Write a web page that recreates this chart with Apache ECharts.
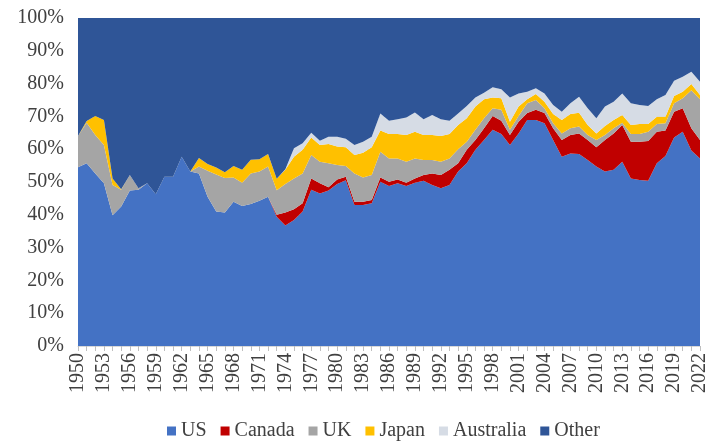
<!DOCTYPE html>
<html>
<head>
    <meta charset="utf-8">
    <title>ECharts</title>
    <script src="https://cdn.jsdelivr.net/npm/echarts@6.0.0/dist/echarts.min.js"></script>
    <style>
        html, body { margin: 0; padding: 0; background: #fff; }
    </style>
</head>
<body>
<div id="main" style="width: 710px;height:441px;"></div>
<script type="text/javascript">
    // share of total, %, per year 1950-2022
    var years = [];
    for (var y = 1950; y <= 2022; y++) years.push(String(y));

    var us = [54.5, 55.7, 52.6, 49.6, 39.9, 42.5, 47.4, 47.6, 49.6, 46.3,
        51.6, 51.6, 57.7, 53.2, 52.6, 45.5, 41.0, 40.7, 44.0, 42.7,
        43.3, 44.3, 45.5, 39.4, 36.7, 38.4, 41.0, 47.6, 46.5, 47.4,
        49.4, 50.5, 43.0, 43.0, 43.5, 50.1, 48.8, 49.6, 48.8, 49.8,
        50.4, 49.1, 48.1, 49.1, 53.2, 55.7, 59.8, 62.8, 65.9, 64.6,
        61.3, 64.8, 68.9, 68.9, 67.9, 62.8, 57.7, 58.7, 58.5, 56.7,
        54.7, 53.2, 53.7, 56.2, 51.1, 50.6, 50.4, 55.7, 57.9, 63.6,
        65.3, 59.6, 57.2];
    var canada = [0, 0, 0, 0, 0, 0, 0, 0, 0, 0,
        0, 0, 0, 0, 0, 0, 0, 0, 0, 0,
        0, 0, 0, 0.6, 4.0, 3.3, 2.5, 3.5, 3.1, 1.0,
        1.4, 1.1, 1.0, 1.0, 1.0, 1.3, 1.3, 1.2, 1.0, 1.3,
        1.7, 3.5, 4.0, 4.6, 2.5, 4.1, 3.0, 3.6, 4.2, 4.1,
        3.0, 3.6, 2.1, 3.1, 3.1, 3.6, 5.1, 5.6, 6.3, 6.1,
        5.9, 9.6, 11.1, 11.2, 11.2, 11.7, 12.1, 9.6, 7.8, 7.8,
        7.2, 6.8, 5.6];
    var uk = [9.5, 12.4, 11.7, 11.7, 9.2, 5.1, 4.7, 0.5, 0, 0,
        0, 0, 0, 0, 2.1, 7.9, 11.3, 10.5, 7.4, 7.1,
        9.3, 8.9, 9.2, 7.5, 8.7, 9.4, 9.1, 7.1, 6.6, 7.3,
        4.4, 3.3, 8.6, 7.4, 7.6, 7.8, 7.1, 6.4, 6.4, 6.1,
        4.6, 4.1, 4.1, 3.5, 4.3, 2.5, 3.1, 3.0, 2.4, 3.3,
        1.6, 1.7, 3.0, 3.0, 1.5, 1.5, 2.0, 2.1, 2.1, 1.5,
        2.2, 1.5, 1.6, 0.7, 2.3, 2.3, 2.8, 2.4, 2.2, 2.6,
        3.0, 11.6, 12.4];
    var japan = [0, 0.5, 5.8, 7.6, 2.0, 0.2, 0, 0, 0, 0,
        0, 0, 0, 0, 2.6, 2.1, 2.1, 1.8, 3.5, 3.9,
        4.2, 3.7, 3.8, 3.5, 4.3, 6.6, 7.2, 5.4, 5.1, 5.9,
        5.6, 5.7, 5.6, 7.5, 8.5, 6.5, 7.4, 7.4, 8.1, 8.1,
        7.6, 7.6, 7.8, 7.4, 7.4, 7.1, 7.1, 5.8, 3.3, 3.5,
        2.5, 2.9, 1.2, 1.8, 2.0, 2.8, 4.1, 4.3, 4.2, 3.1,
        2.0, 2.8, 2.5, 2.3, 2.8, 3.1, 2.4, 2.2, 2.0, 2.2,
        2.0, 1.9, 1.3];
    var australia = [0, 0, 0, 0, 0, 0, 0, 0, 0, 0,
        0, 0, 0, 0, 0, 0, 0, 0, 0, 0,
        0, 0, 0, 0, 0.2, 2.6, 2.0, 1.4, 1.3, 2.2,
        3.0, 2.6, 3.1, 3.4, 3.2, 5.2, 4.1, 4.5, 5.4, 5.9,
        4.8, 6.1, 5.1, 4.1, 3.5, 3.8, 2.8, 2.0, 3.1, 2.8,
        7.4, 4.0, 2.3, 1.8, 2.5, 2.8, 2.5, 3.3, 4.9, 5.1,
        4.6, 5.9, 5.6, 6.6, 6.6, 5.8, 5.5, 5.3, 6.6, 4.7,
        4.6, 3.7, 4.1];
    var other = [36.0, 31.4, 29.9, 31.1, 48.9, 52.2, 47.9, 51.9, 50.4, 53.7,
        48.4, 48.4, 42.3, 46.8, 42.7, 44.5, 45.6, 47.0, 45.1, 46.3,
        43.2, 43.1, 41.5, 49.0, 46.1, 39.7, 38.2, 35.0, 37.4, 36.2,
        36.2, 36.8, 38.7, 37.7, 36.2, 29.1, 31.3, 30.9, 30.3, 28.8,
        30.9, 29.6, 30.9, 31.3, 29.1, 26.8, 24.2, 22.8, 21.1, 21.7,
        24.2, 23.0, 22.5, 21.4, 23.0, 26.5, 28.6, 26.0, 24.0, 27.5,
        30.6, 27.0, 25.5, 23.0, 26.0, 26.5, 26.8, 24.8, 23.5, 19.1,
        17.9, 16.4, 19.4];

    var names = ['US', 'Canada', 'UK', 'Japan', 'Australia', 'Other'];
    var colors = ['#4472C4', '#C00000', '#A5A5A5', '#FFC000', '#D6DCE5', '#2F5597'];
    var values = [us, canada, uk, japan, australia, other];

    var font = '"Liberation Serif", "Times New Roman", serif';

    var series = names.map(function (n, i) {
        return {
            name: n,
            type: 'line',
            stack: 'total',
            data: values[i],
            symbol: 'none',
            lineStyle: { width: 0 },
            areaStyle: { color: colors[i], opacity: 1 },
            itemStyle: { color: colors[i] },
            animation: false
        };
    });

    var myChart = echarts.init(document.getElementById('main'));
    var option = {
        animation: false,
        grid: { left: 78, right: 8, top: 18, bottom: 95 },
        legend: {
            data: names,
            left: 162,
            top: 416,
            icon: 'rect',
            itemWidth: 9,
            itemHeight: 9,
            itemGap: 14,
            textStyle: { fontFamily: font, fontSize: 20, color: '#404040' }
        },
        xAxis: {
            type: 'category',
            data: years,
            boundaryGap: false,
            axisLine: { lineStyle: { color: '#D9D9D9' } },
            axisTick: { show: true, interval: 0, length: 5, lineStyle: { color: '#BFBFBF' } },
            axisLabel: {
                interval: 2,
                rotate: 90,
                margin: 7,
                fontFamily: font,
                fontSize: 20,
                color: '#404040'
            }
        },
        yAxis: {
            type: 'value',
            min: 0,
            max: 100,
            interval: 10,
            axisLine: { show: false },
            axisTick: { show: false },
            splitLine: { show: true, lineStyle: { color: '#D9D9D9' } },
            axisLabel: {
                formatter: '{value}%',
                margin: 14,
                fontFamily: font,
                fontSize: 20,
                color: '#404040'
            }
        },
        series: series
    };
    myChart.setOption(option);
</script>
</body>
</html>
